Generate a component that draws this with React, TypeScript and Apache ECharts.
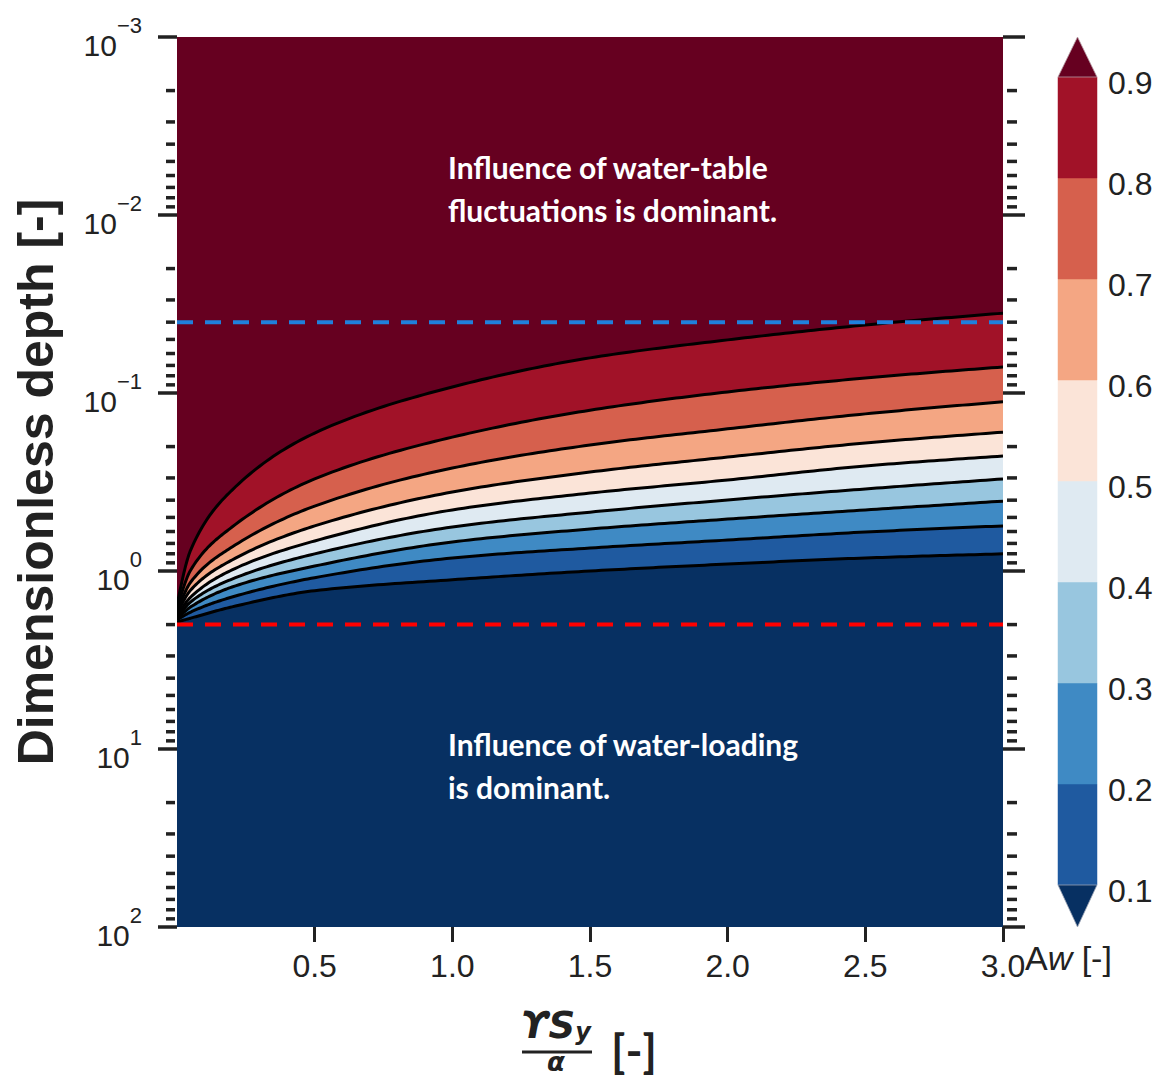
import React, { useEffect, useRef } from 'react';
import * as echarts from 'echarts';

// x positions (γSy/α) at which contour depths were read
const X_POS = [0, 0.05, 0.2, 0.5, 1.0, 1.5, 2.0, 2.5, 3.0];
// dimensionless depth of each Aw contour at X_POS
const DEPTH_A10 = [1.934, 1.84, 1.59, 1.29, 1.12, 1.0, 0.914, 0.845, 0.801];
const DEPTH_A20 = [1.885, 1.7, 1.4, 1.09, 0.845, 0.743, 0.67, 0.604, 0.558];
const DEPTH_A30 = [1.86, 1.59, 1.23, 0.938, 0.687, 0.581, 0.511, 0.454, 0.405];
const DEPTH_A40 = [1.84, 1.49, 1.11, 0.801, 0.566, 0.467, 0.399, 0.346, 0.304];
const DEPTH_A50 = [1.79, 1.4, 0.986, 0.678, 0.454, 0.365, 0.308, 0.257, 0.226];
const DEPTH_A60 = [1.745, 1.278, 0.867, 0.558, 0.36, 0.278, 0.229, 0.191, 0.166];
const DEPTH_A70 = [1.7, 1.153, 0.733, 0.432, 0.264, 0.196, 0.159, 0.131, 0.112];
const DEPTH_A80 = [1.635, 0.986, 0.566, 0.304, 0.177, 0.125, 0.0986, 0.0824, 0.0714];
const DEPTH_A90 = [1.55, 0.76, 0.351, 0.168, 0.0925, 0.0635, 0.0503, 0.0415, 0.0356];

const LEVELS = [0.1, 0.2, 0.3, 0.4, 0.5, 0.6, 0.7, 0.8, 0.9];
const CONTOURS = [DEPTH_A10, DEPTH_A20, DEPTH_A30, DEPTH_A40, DEPTH_A50, DEPTH_A60, DEPTH_A70, DEPTH_A80, DEPTH_A90];
// band colours from 0.1–0.2 up to 0.8–0.9
const BAND_COLORS = ['#1f5aa0', '#3f8ac4', '#98c6df', '#dfeaf2', '#fbe4d8', '#f4a683', '#d6604d', '#a11228'];
const UNDER_COLOR = '#073062';
const OVER_COLOR = '#660020';

const X_MIN = 0;
const X_MAX = 3;
const X_TICKS = [0.5, 1.0, 1.5, 2.0, 2.5, 3.0];
const Y_MIN = 0.001;
const Y_MAX = 100;
const DECADES = [0.001, 0.01, 0.1, 1, 10];
const MINOR_MULTS = [2, 3, 4, 5, 6, 7, 8, 9];

const BLUE_DEPTH = 0.04;
const RED_DEPTH = 2;

const NOTE_TOP = ['Influence of water-table', 'fluctuations is dominant.'];
const NOTE_BOTTOM = ['Influence of water-loading', 'is dominant.'];

const FONT = "'Liberation Sans', Arial, sans-serif";
const NOTE_FONT = "Lato, 'Open Sans', sans-serif";
const TXT = '#222222';

// Monotone cubic (pixel space) drawing of a polyline through given pixel points
function monotonePath(pts: number[][], steps: number): number[][] {
  const n = pts.length;
  if (n < 3) return pts;
  const h: number[] = [];
  const d: number[] = [];
  for (let k = 0; k < n - 1; k++) {
    h.push(pts[k + 1][0] - pts[k][0]);
    d.push((pts[k + 1][1] - pts[k][1]) / (pts[k + 1][0] - pts[k][0]));
  }
  const m: number[] = new Array(n).fill(0);
  for (let k = 1; k < n - 1; k++) {
    if (d[k - 1] * d[k] <= 0) m[k] = 0;
    else {
      const w1 = 2 * h[k] + h[k - 1];
      const w2 = h[k] + 2 * h[k - 1];
      m[k] = (w1 + w2) / (w1 / d[k - 1] + w2 / d[k]);
    }
  }
  m[0] = (3 * d[0] - m[1]) / 2;
  if (m[0] * d[0] <= 0) m[0] = 0;
  m[n - 1] = (3 * d[n - 2] - m[n - 2]) / 2;
  if (m[n - 1] * d[n - 2] <= 0) m[n - 1] = 0;
  const out: number[][] = [pts[0]];
  for (let k = 0; k < n - 1; k++) {
    for (let s = 1; s <= steps; s++) {
      const t = s / steps;
      const t2 = t * t;
      const t3 = t2 * t;
      const h00 = 2 * t3 - 3 * t2 + 1;
      const h10 = t3 - 2 * t2 + t;
      const h01 = -2 * t3 + 3 * t2;
      const h11 = t3 - t2;
      const x = pts[k][0] + t * h[k];
      const y = h00 * pts[k][1] + h10 * h[k] * m[k] + h01 * pts[k + 1][1] + h11 * h[k] * m[k + 1];
      out.push([x, y]);
    }
  }
  return out;
}

export default function App() {
  const ref = useRef<HTMLDivElement>(null);

  useEffect(() => {
    if (!ref.current) return;
    const chart = echarts.init(ref.current, undefined, { renderer: 'svg' });

    const minorTicks: number[][] = [];
    DECADES.forEach((d) => MINOR_MULTS.forEach((m) => minorTicks.push([X_MIN, m * d])));

    // contour items drawn from the 0.9 level down to 0.1 (painter's order)
    const contourItems: number[][] = [];
    for (let i = LEVELS.length - 1; i >= 0; i--) contourItems.push([X_POS[0], CONTOURS[i][0], i]);

    const cbItems: number[][] = [];
    for (let i = 0; i < BAND_COLORS.length; i++) cbItems.push([0.5, LEVELS[i], LEVELS[i + 1], i]);
    cbItems.push([0.5, LEVELS[0], LEVELS[0], -1]);
    cbItems.push([0.5, LEVELS[LEVELS.length - 1], LEVELS[LEVELS.length - 1], 99]);

    const logAxisBase = {
      type: 'log',
      logBase: 10,
      min: Y_MIN,
      max: Y_MAX,
      inverse: true,
      gridIndex: 0,
      splitNumber: 5,
      axisLine: { show: false },
      splitLine: { show: false },
    };

    const option: any = {
      animation: false,
      backgroundColor: '#fff',
      grid: [
        { left: 177, top: 37, width: 826, height: 890, show: true, backgroundColor: OVER_COLOR, borderWidth: 0 },
        { left: 1058, top: 77, width: 39, height: 808, show: false },
      ],
      xAxis: [
        {
          type: 'value',
          gridIndex: 0,
          min: X_MIN,
          max: X_MAX,
          interval: 0.5,
          axisLine: { show: false },
          splitLine: { show: false },
          axisTick: { show: true, customValues: X_TICKS, length: 15, lineStyle: { color: TXT, width: 3 } },
          axisLabel: {
            customValues: X_TICKS,
            formatter: (v: number) => (v === 0 ? '' : v.toFixed(1)),
            fontSize: 32,
            fontFamily: FONT,
            color: TXT,
            margin: 23,
          },
        },
        { type: 'value', gridIndex: 1, min: 0, max: 1, show: false },
      ],
      yAxis: [
        {
          ...logAxisBase,
          position: 'left',
          axisTick: { show: true, length: 19, lineStyle: { color: TXT, width: 3.5 } },
          axisLabel: {
            margin: 35,
            formatter: (v: number) => {
              const e = Math.round(Math.log10(v));
              return '{b|10}{s|' + (e < 0 ? '\u2212' + -e : String(e)) + '}';
            },
            rich: {
              b: { fontSize: 30, fontFamily: FONT, color: TXT, verticalAlign: 'bottom' },
              s: { fontSize: 22, fontFamily: FONT, color: TXT, verticalAlign: 'top', lineHeight: 46 },
            },
          },
        },
        {
          ...logAxisBase,
          position: 'right',
          axisTick: { show: true, length: 22, lineStyle: { color: TXT, width: 3.5 } },
          axisLabel: { show: false },
        },
        {
          type: 'value',
          gridIndex: 1,
          position: 'right',
          min: 0.1,
          max: 0.9,
          interval: 0.1,
          axisLine: { show: false },
          axisTick: { show: false },
          splitLine: { show: false },
          axisLabel: {
            formatter: (v: number) => v.toFixed(1),
            fontSize: 32,
            fontFamily: FONT,
            color: TXT,
            margin: 11,
            verticalAlign: 'top',
            lineHeight: 12,
          },
        },
      ],
      series: [
        {
          type: 'custom',
          name: 'contours',
          xAxisIndex: 0,
          yAxisIndex: 0,
          clip: true,
          silent: true,
          z: 2,
          data: contourItems,
          renderItem: (params: any, api: any) => {
            const i = api.value(2);
            const pts = X_POS.map((x, j) => api.coord([x, CONTOURS[i][j]]));
            const curve = monotonePath(pts, 24);
            const bl = api.coord([X_MIN, Y_MAX]);
            const br = api.coord([X_MAX, Y_MAX]);
            const poly = curve.concat([br, bl]);
            return {
              type: 'group',
              children: [
                { type: 'polygon', shape: { points: poly }, style: { fill: i === 0 ? UNDER_COLOR : BAND_COLORS[i - 1], stroke: 'none' } },
                { type: 'polyline', shape: { points: curve }, style: { stroke: '#000', lineWidth: 3, fill: 'none' } },
              ],
            };
          },
        },
        {
          type: 'line',
          name: 'blue',
          xAxisIndex: 0,
          yAxisIndex: 0,
          data: [[X_MIN, BLUE_DEPTH], [X_MAX, BLUE_DEPTH]],
          symbol: 'none',
          silent: true,
          z: 20,
          lineStyle: { color: '#1f80dc', width: 4, type: [16, 12] },
        },
        {
          type: 'line',
          name: 'red',
          xAxisIndex: 0,
          yAxisIndex: 0,
          data: [[X_MIN, RED_DEPTH], [X_MAX, RED_DEPTH]],
          symbol: 'none',
          silent: true,
          z: 20,
          lineStyle: { color: '#ff0000', width: 4, type: [16, 12] },
        },
        {
          type: 'custom',
          name: 'minorTicks',
          xAxisIndex: 0,
          yAxisIndex: 0,
          clip: false,
          silent: true,
          z: 20,
          data: minorTicks,
          renderItem: (params: any, api: any) => {
            const v = api.value(1);
            const pl = api.coord([X_MIN, v]);
            const pr = api.coord([X_MAX, v]);
            return {
              type: 'group',
              children: [
                { type: 'line', shape: { x1: pl[0] - 2, y1: pl[1], x2: pl[0] - 11, y2: pl[1] }, style: { stroke: TXT, lineWidth: 3.5 } },
                { type: 'line', shape: { x1: pr[0] + 4, y1: pr[1], x2: pr[0] + 14, y2: pr[1] }, style: { stroke: TXT, lineWidth: 3.5 } },
              ],
            };
          },
        },
        {
          type: 'custom',
          name: 'colorbar',
          xAxisIndex: 1,
          yAxisIndex: 2,
          clip: false,
          silent: true,
          data: cbItems,
          renderItem: (params: any, api: any) => {
            const lo = api.value(1);
            const hi = api.value(2);
            const k = api.value(3);
            const xl = api.coord([0, lo])[0];
            const xr = api.coord([1, lo])[0];
            const xm = (xl + xr) / 2;
            if (k === -1) {
              const yb = api.coord([0, lo])[1];
              return { type: 'polygon', shape: { points: [[xl, yb], [xr, yb], [xm, yb + 42]] }, style: { fill: UNDER_COLOR, stroke: '#9aa3b5', lineWidth: 0.8 } };
            }
            if (k === 99) {
              const yt = api.coord([0, hi])[1];
              return { type: 'polygon', shape: { points: [[xl, yt], [xr, yt], [xm, yt - 40]] }, style: { fill: OVER_COLOR, stroke: '#b59aa3', lineWidth: 0.8 } };
            }
            const y1 = api.coord([0, hi])[1];
            const y2 = api.coord([0, lo])[1];
            return { type: 'rect', shape: { x: xl, y: y1, width: xr - xl, height: y2 - y1 }, style: { fill: BAND_COLORS[k], stroke: BAND_COLORS[k], lineWidth: 0.5 } };
          },
        },
      ],
      graphic: [
        {
          type: 'text', x: 36, y: 482, rotation: Math.PI / 2,
          style: { text: 'Dimensionless depth [-]', fontSize: 50, fontWeight: 'bold', fontFamily: FONT, fill: TXT, align: 'center', verticalAlign: 'middle' },
        },
        { type: 'text', x: 448, y: 167, z: 30, style: { text: NOTE_TOP[0], fontSize: 30, fontWeight: 'bold', fontFamily: NOTE_FONT, fill: '#fff', verticalAlign: 'middle' } },
        { type: 'text', x: 448, y: 210, z: 30, style: { text: NOTE_TOP[1], fontSize: 30, fontWeight: 'bold', fontFamily: NOTE_FONT, fill: '#fff', verticalAlign: 'middle' } },
        { type: 'text', x: 448, y: 744, z: 30, style: { text: NOTE_BOTTOM[0], fontSize: 30, fontWeight: 'bold', fontFamily: NOTE_FONT, fill: '#fff', verticalAlign: 'middle' } },
        { type: 'text', x: 448, y: 787, z: 30, style: { text: NOTE_BOTTOM[1], fontSize: 30, fontWeight: 'bold', fontFamily: NOTE_FONT, fill: '#fff', verticalAlign: 'middle' } },
        {
          type: 'text', x: 521, y: 1044,
          style: {
            text: '{a|\u03D2S}{b|y}',
            verticalAlign: 'bottom',
            rich: {
              a: { fontSize: 37, fontWeight: 'bold', fontStyle: 'italic', fontFamily: "'DejaVu Sans', sans-serif", fill: TXT, verticalAlign: 'bottom' },
              b: { fontSize: 24, fontWeight: 'bold', fontStyle: 'italic', fontFamily: "'DejaVu Sans', sans-serif", fill: TXT, verticalAlign: 'bottom' },
            },
          },
        },
        { type: 'line', shape: { x1: 522, y1: 1052, x2: 592, y2: 1052 }, style: { stroke: TXT, lineWidth: 3 } },
        { type: 'text', x: 556, y: 1075, style: { text: '\u03B1', fontSize: 26, fontWeight: 'bold', fontStyle: 'italic', fontFamily: "'DejaVu Sans', sans-serif", fill: TXT, align: 'center', verticalAlign: 'bottom' } },
        { type: 'text', x: 611, y: 1050, style: { text: '[-]', fontSize: 46, fontWeight: 'bold', fontFamily: NOTE_FONT, fill: TXT, verticalAlign: 'middle' } },
        {
          type: 'text', x: 1025, y: 975,
          style: {
            text: '{a|A}{w|w}{a| [-]}',
            verticalAlign: 'bottom',
            rich: {
              a: { fontSize: 34, fontFamily: FONT, fill: TXT },
              w: { fontSize: 34, fontStyle: 'italic', fontFamily: FONT, fill: TXT },
            },
          },
        },
      ],
    };

    chart.setOption(option);
    return () => chart.dispose();
  }, []);

  return <div ref={ref} style={{ position: 'absolute', left: 0, top: 0, width: 1159, height: 1076 }} />;
}
